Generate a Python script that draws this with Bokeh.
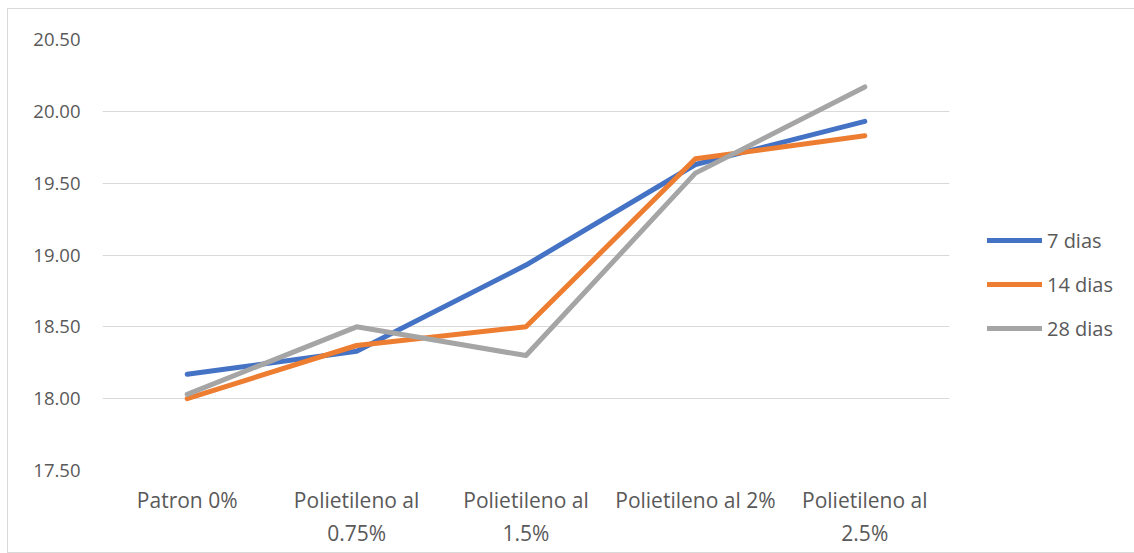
from bokeh.plotting import figure
from bokeh.models import Legend, LegendItem, FixedTicker, NumeralTickFormatter, Range1d
from bokeh.embed import file_html
from bokeh.resources import INLINE

categories = ["Patron 0%", "Polietileno al\n0.75%", "Polietileno al\n1.5%",
              "Polietileno al 2%", "Polietileno al\n2.5%"]
series_names = ["7 dias", "14 dias", "28 dias"]
dias_7 = [18.17, 18.33, 18.93, 19.63, 19.93]
dias_14 = [18.00, 18.37, 18.50, 19.67, 19.83]
dias_28 = [18.03, 18.50, 18.30, 19.57, 20.17]
y_ticks = [17.5, 18.0, 18.5, 19.0, 19.5, 20.0, 20.5]
colors = ["#4472C4", "#ED7D31", "#A5A5A5"]

FONT = "Open Sans"
TXT = "#595959"
FS = "20px"

p = figure(x_range=categories, y_range=Range1d(17.5, 20.5),
           frame_width=847, frame_height=431, output_backend="svg", toolbar_location=None,
           min_border_left=94, min_border_top=30, min_border_bottom=82, min_border_right=184,
           styles={"border": "1px solid #D9D9D9", "margin-left": "7px", "margin-top": "8px"})
p.outline_line_color = None
p.background_fill_color = "white"
p.border_fill_color = "white"

p.xgrid.grid_line_color = None
p.ygrid.grid_line_color = "#D9D9D9"
p.ygrid.grid_line_width = 1

p.yaxis.ticker = FixedTicker(ticks=y_ticks)
p.yaxis.formatter = NumeralTickFormatter(format="0.00")
for ax in (p.xaxis[0], p.yaxis[0]):
    ax.axis_line_color = None
    ax.major_tick_line_color = None
    ax.minor_tick_line_color = None
    ax.major_tick_out = 0
    ax.major_tick_in = 0
    ax.major_label_text_font = FONT
    ax.major_label_text_color = TXT
p.xaxis.major_label_text_font_size = "21px"
p.yaxis.major_label_text_font_size = "18.5px"
p.yaxis.major_label_standoff = 22
p.xaxis.major_label_standoff = 15

renderers = []
for vals, c in zip([dias_7, dias_14, dias_28], colors):
    r = p.line(categories, vals, line_color=c, line_width=5,
               line_cap="round", line_join="round")
    renderers.append(r)

legend = Legend(items=[LegendItem(label=n, renderers=[r]) for n, r in zip(series_names, renderers)],
                location="center_left", orientation="vertical",
                title=" ", title_text_font_size=FS, title_standoff=36,
                glyph_width=55, glyph_height=20, label_height=20, spacing=17,
                label_standoff=5, padding=0, margin=38,
                label_text_font=FONT, label_text_font_size=FS, label_text_color=TXT,
                border_line_color=None, background_fill_alpha=0)
p.add_layout(legend, "right")

open("out.html", "w").write(file_html(p, INLINE))
